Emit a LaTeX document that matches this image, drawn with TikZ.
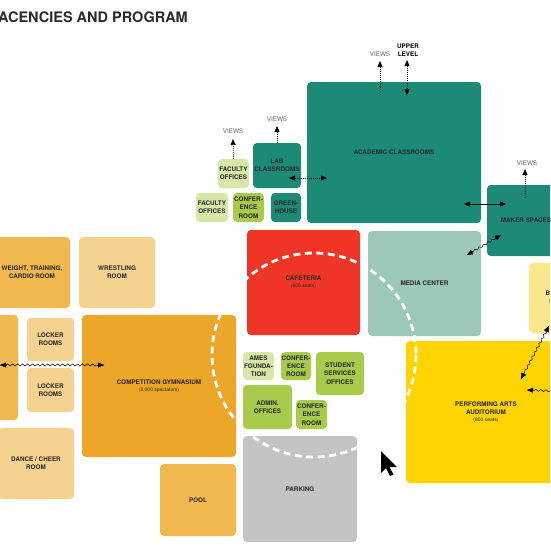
\documentclass[tikz,border=0pt]{standalone}
\usepackage{fontspec}
\setmainfont{TeX Gyre Heros}
\usetikzlibrary{arrows.meta,decorations.pathmorphing,calc}
\definecolor{teal1}{HTML}{1D8A78}
\definecolor{mediac}{HTML}{9CC8B9}
\definecolor{redc}{HTML}{EE3526}
\definecolor{lgreen}{HTML}{D6E7A7}
\definecolor{mgreen}{HTML}{A8CB4C}
\definecolor{gymc}{HTML}{ECA628}
\definecolor{morange}{HTML}{F0B84F}
\definecolor{lorange}{HTML}{F5D28F}
\definecolor{greyc}{HTML}{C4C4C4}
\definecolor{yellowc}{HTML}{FFD400}
\definecolor{lyellow}{HTML}{FEE68C}
\definecolor{txt}{HTML}{2A2A2A}
\definecolor{viewc}{HTML}{6A6A6A}
\newcommand\roomfont{\fontsize{6.3pt}{8.2pt}\selectfont\bfseries}
\newcommand\subfont{\fontsize{5pt}{6pt}\selectfont\mdseries}
\tikzset{
  room/.style={rounded corners=4pt, inner sep=0pt, align=center, text=txt, font=\roomfont},
  views/.style={inner sep=0pt, text=viewc, font=\fontsize{6.4pt}{7pt}\selectfont},
  arr/.style={line width=0.7pt, black, {Triangle[length=6pt,width=5pt]}-{Triangle[length=6pt,width=5pt]}},
  arr1/.style={line width=0.7pt, black, -{Triangle[length=6pt,width=5pt]}},
  tipst/.style={line width=0.5pt, black, -{Triangle[length=6pt,width=5pt]}},
  dots/.style={dash pattern=on 0.9pt off 1.1pt},
  wavy/.style={line width=0.5pt, black, decorate, decoration={snake, amplitude=1pt, segment length=5pt, pre length=6pt, post length=6pt}},
}
\begin{document}
\begin{tikzpicture}[x=1pt,y=-1pt]
\useasboundingbox (0,0) rectangle (550,550);
\clip (0,0) rectangle (550,550);
% title
\node[inner sep=0pt, anchor=east, text=txt, font=\fontsize{14.5pt}{16pt}\selectfont\bfseries] (title) at (188,17.2) {ACENCIES AND PROGRAM};
% academic cluster
\node[room, fill=teal1, minimum width=174pt, minimum height=141pt] (acad) at (394,152.5) {ACADEMIC CLASSROOMS};
\node[room, fill=teal1, minimum width=48pt, minimum height=45pt] (lab) at (277,165.5) {LAB\\CLASSROOMS};
\node[room, fill=lgreen, minimum width=31pt, minimum height=29pt] (facup) at (233.5,173.5) {FACULTY\\OFFICES};
\node[room, fill=lgreen, minimum width=32pt, minimum height=29pt] (faclow) at (212,207.5) {FACULTY\\OFFICES};
\node[room, fill=mgreen, minimum width=31pt, minimum height=29pt] (conf1) at (248.5,207.5) {CONFER-\\ENCE\\ROOM};
\node[room, fill=teal1, minimum width=30pt, minimum height=29pt] (green) at (286,207.5) {GREEN-\\HOUSE};
\node[room, fill=teal1, minimum width=78pt, minimum height=71pt] (maker) at (526,220.5) {MAKER SPACES};
\node[room, fill=mediac, minimum width=113pt, minimum height=105pt] (media) at (424.5,283.5) {MEDIA CENTER};
\node[room, fill=redc, minimum width=113pt, minimum height=105pt] (cafe) at (303.5,282.5) {CAFETERIA\\[-1.5pt]{\subfont (800 seats)}};
\node[room, fill=lyellow, minimum width=51pt, minimum height=70pt] (bbox) at (554.5,298) {};
% athletics
\node[room, fill=morange, minimum width=76pt, minimum height=71pt] (weight) at (32,272.5) {WEIGHT, TRAINING,\\CARDIO ROOM};
\node[room, fill=lorange, minimum width=76pt, minimum height=71pt] (wrest) at (117,272.5) {WRESTLING\\ROOM};
\node[room, fill=morange, minimum width=58pt, minimum height=105pt] (leftbox) at (-11,367.5) {};
\node[room, fill=lorange, minimum width=47pt, minimum height=43pt] (lock1) at (50.5,339.5) {LOCKER\\ROOMS};
\node[room, fill=lorange, minimum width=47pt, minimum height=44pt] (lock2) at (50.5,390) {LOCKER\\ROOMS};
\node[room, fill=gymc, minimum width=154pt, minimum height=142pt] (gym) at (159,386) {COMPETITION GYMNASIUM\\[-1pt]{\subfont (2,000 spectators)}};
\node[room, fill=lorange, minimum width=76pt, minimum height=71pt] (dance) at (36,463.5) {DANCE / CHEER\\ROOM};
\node[room, fill=morange, minimum width=76pt, minimum height=72pt] (pool) at (198,500) {POOL};
\node[room, fill=greyc, minimum width=114pt, minimum height=106pt] (parking) at (300,489) {PARKING};
% admin cluster
\node[room, fill=lgreen, minimum width=31pt, minimum height=28pt] (ames) at (258.5,366) {AMES\\FOUNDA-\\TION};
\node[room, fill=mgreen, minimum width=30pt, minimum height=28pt] (conf2) at (296,366) {CONFER-\\ENCE\\ROOM};
\node[room, fill=mgreen, minimum width=48pt, minimum height=43pt] (student) at (340,373.5) {STUDENT\\SERVICES\\OFFICES};
\node[room, fill=mgreen, minimum width=49pt, minimum height=44pt] (admin) at (267.5,407) {ADMIN.\\OFFICES};
\node[room, fill=mgreen, minimum width=31pt, minimum height=29pt] (conf3) at (311.5,414.5) {CONFER-\\ENCE\\ROOM};
% performing arts
\node[room, fill=yellowc, minimum width=160pt, minimum height=142pt] (perf) at (486,412) {PERFORMING ARTS\\AUDITORIUM\\[-1pt]{\subfont (800 seats)}};
\node[inner sep=0pt, text=txt, font=\roomfont] (btxt) at (548,293) {B};
\node[inner sep=0pt, text=txt, font=\subfont] (bsub) at (549.5,301) {(};
% dashed circle
\draw[white, line width=2.8pt, dash pattern=on 7pt off 4.5pt] (314,355) circle[radius=102];
% views labels and arrows
\node[views] (vw1) at (233,131) {VIEWS};
\node[views] (vw2) at (277,119) {VIEWS};
\node[views] (vw3) at (380,54) {VIEWS};
\node[views] (vw4) at (527,163) {VIEWS};
\node[inner sep=0pt, align=center, text=black, font=\fontsize{6.3pt}{7.6pt}\selectfont\bfseries] (upper) at (408,50) {UPPER\\LEVEL};
\coordinate (t1) at (233,139);
\coordinate (t2) at (277,126);
\coordinate (s3) at (380,92);
\coordinate (t3) at (380,61);
\coordinate (s4) at (525,198);
\coordinate (t4) at (525,169);
\coordinate (u1) at (407,60);
\coordinate (u2) at (407,95);
\draw[arr1, dots] (facup.north) -- (t1);
\draw[arr1, dots] (lab.north) -- (t2);
\draw[arr1, dots] (s3) -- (t3);
\draw[arr1, dots] (s4) -- (t4);
\draw[arr, dots] (u1) -- (u2);
% connections
\coordinate (la1) at (289,178);
\coordinate (la2) at (327,178);
\draw[arr, dots] (la1) -- (la2);
\coordinate (am1) at (464,204);
\coordinate (am2) at (506,204);
\draw[arr, line width=0.5pt] (am1) -- (am2);
% wavy connectors
\coordinate (mm1) at (501,235);
\coordinate (mm2) at (467,255);
\draw[wavy] (mm1) -- (mm2);
\draw[tipst] ($(mm1)!7pt!(mm2)$) -- (mm1);
\draw[tipst] ($(mm2)!7pt!(mm1)$) -- (mm2);
\coordinate (lg1) at (0,365);
\coordinate (lg2) at (104,365);
\draw[wavy] (lg1) -- (lg2);
\draw[tipst] ($(lg1)!7pt!(lg2)$) -- (lg1);
\draw[tipst] ($(lg2)!7pt!(lg1)$) -- (lg2);
\coordinate (bp1) at (549,326);
\coordinate (bp2) at (521,379);
\draw[wavy] (bp1) -- (bp2);
\draw[tipst] ($(bp1)!7pt!(bp2)$) -- (bp1);
\draw[tipst] ($(bp2)!7pt!(bp1)$) -- (bp2);
\coordinate (rp1) at (556,391);
\coordinate (rp2) at (527,390);
\draw[wavy] (rp1) -- (rp2);
\draw[tipst] ($(rp2)!7pt!(rp1)$) -- (rp2);
% cursor
\fill[black] (381,451) -- (381,473) -- (386,468) -- (390,476) -- (393.5,474.5) -- (389.5,467) -- (397,467) -- cycle;
\end{tikzpicture}
\end{document}
